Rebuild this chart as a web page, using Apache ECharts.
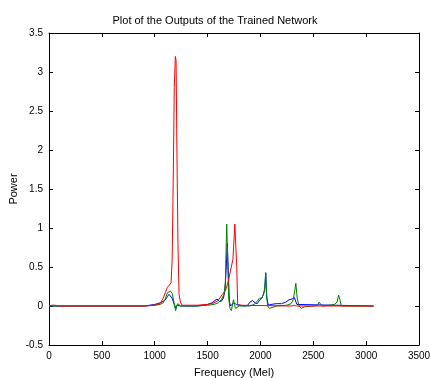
<!DOCTYPE html>
<html>
<head>
<meta charset="utf-8">
<script src="https://cdn.jsdelivr.net/npm/echarts@6/dist/echarts.min.js"></script>
<style>
  html, body { margin: 0; padding: 0; background: #fff; }
  #chart { width: 430px; height: 378px; }
</style>
</head>
<body>
<div id="chart"></div>
<script>
// output 1 (blue)
const freqBlue = [0, 900, 950, 1000, 1050, 1080, 1100, 1120, 1135, 1150, 1165, 1180, 1192, 1200, 1212, 1225, 1245, 1400, 1450, 1500, 1540, 1570, 1590, 1610, 1630, 1650, 1665, 1675, 1687, 1697, 1707, 1718, 1730, 1745, 1760, 1775, 1790, 1850, 1880, 1900, 1925, 1950, 1970, 1995, 2015, 2030, 2040, 2050, 2060, 2075, 2100, 2150, 2200, 2240, 2270, 2300, 2320, 2335, 2345, 2360, 3070];
const powerBlue = [0, 0, 0.01, 0.02, 0.04, 0.06, 0.08, 0.12, 0.15, 0.14, 0.1, 0.04, 0.0, -0.03, 0.01, 0.02, 0.0, 0, 0.01, 0.02, 0.04, 0.07, 0.09, 0.06, 0.06, 0.1, 0.2, 0.45, 0.8, 0.4, 0.05, 0.0, 0.02, 0.04, 0.06, 0.02, 0.0, 0.0, 0.01, 0.05, 0.07, 0.04, 0.03, 0.08, 0.1, 0.12, 0.2, 0.42, 0.1, 0.01, 0.02, 0.03, 0.03, 0.05, 0.08, 0.09, 0.11, 0.12, 0.02, 0.0, 0];

// output 2 (green)
const freqGreen = [0, 900, 1000, 1050, 1080, 1100, 1120, 1135, 1150, 1165, 1178, 1188, 1198, 1208, 1218, 1230, 1245, 1400, 1500, 1560, 1600, 1630, 1655, 1668, 1681, 1690, 1700, 1712, 1725, 1735, 1745, 1755, 1765, 1780, 1800, 1900, 1940, 1970, 1990, 2010, 2030, 2042, 2050, 2058, 2068, 2085, 2110, 2150, 2250, 2290, 2310, 2325, 2335, 2348, 2365, 2385, 2420, 2500, 2540, 2555, 2570, 2590, 2650, 2700, 2725, 2740, 2752, 2765, 3070];
const powerGreen = [0, 0, 0.01, 0.02, 0.04, 0.09, 0.17, 0.19, 0.19, 0.16, 0.08, 0.0, -0.06, 0.0, 0.03, 0.02, 0.0, 0, 0.01, 0.02, 0.04, 0.08, 0.15, 0.3, 1.05, 0.6, 0.1, -0.03, -0.06, -0.05, 0.08, 0.02, -0.03, -0.01, 0, 0, 0.02, 0.06, 0.1, 0.1, 0.15, 0.25, 0.43, 0.15, 0.0, -0.03, -0.02, 0.0, 0.01, 0.03, 0.08, 0.2, 0.29, 0.1, 0.0, -0.03, -0.01, 0.0, 0.01, 0.05, 0.02, 0.0, 0.01, 0.02, 0.05, 0.14, 0.08, 0.0, 0];

// output 3 (red)
const freqRed = [0, 20, 40, 60, 80, 100, 900, 1000, 1050, 1080, 1100, 1120, 1140, 1155, 1165, 1175, 1185, 1195, 1202, 1210, 1220, 1230, 1245, 1260, 1300, 1400, 1500, 1560, 1600, 1640, 1670, 1695, 1718, 1740, 1758, 1768, 1776, 1785, 1800, 2300, 2320, 2340, 3070];
const powerRed = [0, 0.01, 0.01, 0.01, 0, 0, 0, 0.01, 0.03, 0.1, 0.17, 0.24, 0.27, 0.3, 0.6, 1.6, 2.8, 3.2, 3.15, 2.0, 0.8, 0.15, 0.04, 0.01, 0.01, 0.01, 0.02, 0.04, 0.07, 0.15, 0.2, 0.31, 0.46, 0.6, 1.05, 1.05, 0.5, 0.01, 0, 0, 0.01, 0, 0];

const zip = (xs, ys) => xs.map((x, i) => [x, ys[i]]);

const myChart = echarts.init(document.getElementById('chart'));

const font = 'Liberation Sans, Arial, sans-serif';
const lineBlack = { show: true, onZero: false, lineStyle: { color: '#000', width: 1 } };
const tickIn = { show: true, inside: true, length: 4, lineStyle: { color: '#000' } };
const tickFont = { color: '#000', fontSize: 10, fontFamily: font };
const nameFont = { color: '#000', fontSize: 11, fontFamily: font };

const option = {
  animation: false,
  backgroundColor: '#fff',
  title: {
    text: 'Plot of the Outputs of the Trained Network',
    left: 'center',
    top: 10,
    textStyle: { color: '#000', fontSize: 11, fontWeight: 'normal', fontFamily: font }
  },
  grid: { left: 49, right: 11, top: 33, bottom: 33, outerBoundsMode: 'none', containLabel: false },
  xAxis: [
    {
      type: 'value', min: 0, max: 3500, interval: 500, position: 'bottom',
      axisLine: lineBlack, axisTick: tickIn, splitLine: { show: false },
      axisLabel: Object.assign({ margin: 6, formatter: v => String(v) }, tickFont),
      name: 'Frequency (Mel)', nameLocation: 'middle', nameGap: 22, nameMoveOverlap: false,
      nameTextStyle: nameFont
    },
    {
      type: 'value', min: 0, max: 3500, interval: 500, position: 'top',
      axisLine: lineBlack, axisTick: tickIn, splitLine: { show: false },
      axisLabel: { show: false }
    }
  ],
  yAxis: [
    {
      type: 'value', min: -0.5, max: 3.5, interval: 0.5, position: 'left',
      axisLine: lineBlack, axisTick: tickIn, splitLine: { show: false },
      axisLabel: Object.assign({ margin: 6, formatter: v => String(v) }, tickFont),
      name: 'Power', nameLocation: 'middle', nameGap: 30, nameMoveOverlap: false,
      nameTextStyle: nameFont
    },
    {
      type: 'value', min: -0.5, max: 3.5, interval: 0.5, position: 'right',
      axisLine: lineBlack, axisTick: tickIn, splitLine: { show: false },
      axisLabel: { show: false }
    }
  ],
  series: [
    {
      name: 'Output 1', type: 'line', showSymbol: false,
      lineStyle: { color: '#0000ff', width: 1 },
      data: zip(freqBlue, powerBlue)
    },
    {
      name: 'Output 2', type: 'line', showSymbol: false,
      lineStyle: { color: '#008000', width: 1 },
      data: zip(freqGreen, powerGreen)
    },
    {
      name: 'Output 3', type: 'line', showSymbol: false,
      lineStyle: { color: '#ff0000', width: 1 },
      data: zip(freqRed, powerRed)
    }
  ]
};
myChart.setOption(option);
</script>
</body>
</html>
